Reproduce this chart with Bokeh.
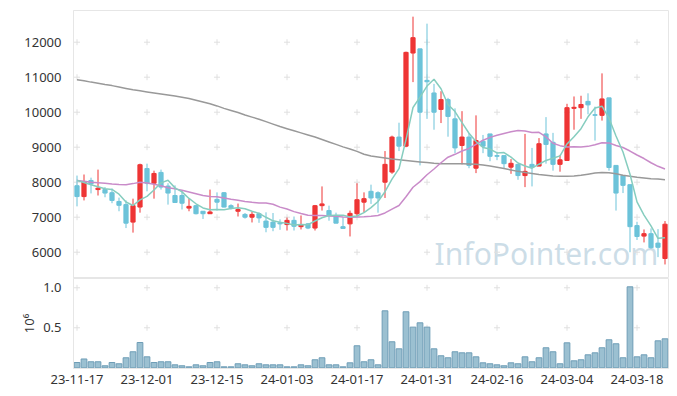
from bokeh.plotting import figure
from bokeh.layouts import column
from bokeh.models import FixedTicker, Range1d, Label, NumeralTickFormatter
from bokeh.core.properties import value
from bokeh.embed import file_html
from bokeh.resources import INLINE

dates = [
    "23-11-17", "23-11-20", "23-11-21", "23-11-22", "23-11-23", "23-11-24", "23-11-27", "23-11-28", "23-11-29", "23-11-30",
    "23-12-01", "23-12-04", "23-12-05", "23-12-06", "23-12-07", "23-12-08", "23-12-11", "23-12-12", "23-12-13", "23-12-14",
    "23-12-15", "23-12-18", "23-12-19", "23-12-20", "23-12-21", "23-12-22", "23-12-26", "23-12-27", "23-12-28", "24-01-02",
    "24-01-03", "24-01-04", "24-01-05", "24-01-08", "24-01-09", "24-01-10", "24-01-11", "24-01-12", "24-01-15", "24-01-16",
    "24-01-17", "24-01-18", "24-01-19", "24-01-22", "24-01-23", "24-01-24", "24-01-25", "24-01-26", "24-01-29", "24-01-30",
    "24-01-31", "24-02-01", "24-02-02", "24-02-05", "24-02-06", "24-02-07", "24-02-08", "24-02-13", "24-02-14", "24-02-15",
    "24-02-16", "24-02-19", "24-02-20", "24-02-21", "24-02-22", "24-02-23", "24-02-26", "24-02-27", "24-02-28", "24-02-29",
    "24-03-04", "24-03-05", "24-03-06", "24-03-07", "24-03-08", "24-03-11", "24-03-12", "24-03-13", "24-03-14", "24-03-15",
    "24-03-18", "24-03-19", "24-03-20", "24-03-21", "24-03-22",
]

opens = [7900, 7590, 8050, 7790, 7790, 7700, 7450, 7360, 6860, 7290,
         8390, 7970, 8280, 7890, 7620, 7620, 7260, 7330, 7170, 7100,
         7510, 7700, 7330, 7170, 7080, 7000, 7100, 6890, 6860, 6840,
         6790, 6910, 6730, 6810, 6690, 7330, 7190, 7050, 6730, 6810,
         7100, 7430, 7740, 7700, 8000, 8290, 9290, 9030, 11690, 11810,
         10910, 10550, 10080, 10360, 9810, 9050, 9290, 8400, 9170, 9380,
         8760, 8760, 8430, 8510, 8190, 8510, 8460, 9380, 9140, 8510,
         8620, 10110, 10130, 10310, 9930, 9910, 10410, 8480, 8190, 7930,
         6760, 6460, 6530, 6260, 5820]
highs = [8190, 8220, 8130, 8360, 7860, 7820, 7560, 7480, 7530, 8530,
         8530, 8330, 8360, 7970, 7910, 7760, 7540, 7350, 7170, 7790,
         7710, 7720, 7370, 7390, 7120, 7150, 7140, 7140, 7120, 6940,
         6990, 7020, 7050, 6830, 7350, 7880, 7330, 7130, 7000, 7190,
         7970, 7710, 7930, 7740, 8890, 9330, 9700, 11730, 12730, 11810,
         12530, 10810, 10600, 10410, 10110, 10030, 9400, 9910, 9350, 9380,
         8870, 8760, 8660, 8510, 9380, 8980, 9260, 9860, 9410, 8780,
         10240, 10450, 10470, 10540, 10160, 11110, 10410, 8480, 8190, 7930,
         6870, 6650, 6680, 6660, 6890]
lows = [7310, 7480, 7680, 7620, 7570, 7400, 7170, 6690, 6560, 7130,
        7740, 7530, 7790, 7360, 7410, 7220, 7170, 7080, 6950, 7100,
        7190, 7280, 7220, 7020, 6960, 6850, 6840, 6570, 6600, 6640,
        6620, 6620, 6650, 6660, 6620, 7190, 6900, 6830, 6680, 6450,
        7020, 7130, 7380, 7130, 7550, 8240, 8890, 9000, 10860, 8480,
        9810, 9500, 9690, 9300, 8830, 8510, 8400, 8260, 8830, 8600,
        8630, 8380, 8240, 8070, 7860, 7880, 8460, 8530, 8330, 8300,
        8620, 9500, 9810, 9940, 9190, 9760, 8330, 7190, 7690, 6000,
        6350, 6280, 6100, 5860, 5650]
closes = [7590, 8020, 7950, 7830, 7690, 7480, 7340, 6830, 7330, 8500,
          7970, 8250, 7860, 7690, 7420, 7400, 7310, 7100, 7100, 7150,
          7430, 7290, 7270, 7220, 7000, 7080, 6980, 6710, 6710, 6810,
          6910, 6740, 6790, 6690, 7330, 7380, 7050, 6830, 6680, 7110,
          7500, 7530, 7550, 7550, 8510, 9290, 9030, 11710, 12130, 10000,
          10870, 10000, 10360, 9880, 8980, 9290, 8480, 9190, 9030, 8740,
          8740, 8530, 8540, 8190, 8310, 8430, 9100, 9080, 8510, 8640,
          10130, 10140, 10220, 10210, 9910, 10380, 8420, 7690, 7910, 6730,
          6450, 6530, 6130, 6140, 6800]

# volume in millions
volumes = [0.066, 0.11, 0.075, 0.075, 0.025, 0.066, 0.05, 0.125, 0.2, 0.316,
           0.137, 0.066, 0.075, 0.075, 0.037, 0.025, 0.012, 0.037, 0.025, 0.066,
           0.075, 0.012, 0.012, 0.05, 0.037, 0.025, 0.05, 0.037, 0.037, 0.037,
           0.012, 0.012, 0.037, 0.025, 0.1, 0.125, 0.037, 0.037, 0.012, 0.062,
           0.275, 0.075, 0.1, 0.037, 0.712, 0.325, 0.237, 0.7, 0.508, 0.562,
           0.508, 0.237, 0.15, 0.125, 0.2, 0.187, 0.187, 0.137, 0.062, 0.05,
           0.037, 0.025, 0.062, 0.05, 0.137, 0.075, 0.125, 0.25, 0.2, 0.05,
           0.312, 0.087, 0.1, 0.162, 0.187, 0.25, 0.35, 0.3, 0.125, 1.012,
           0.137, 0.162, 0.125, 0.337, 0.362]

ma5 = [8050, 7990, 7930, 7870, 7816, 7794, 7658, 7434, 7334, 7496,
       7594, 7776, 7982, 8054, 7838, 7724, 7536, 7384, 7266, 7212,
       7218, 7214, 7248, 7272, 7242, 7172, 7110, 6998, 6896, 6858,
       6824, 6776, 6792, 6788, 6892, 6986, 7048, 7056, 7054, 7010,
       7034, 7130, 7274, 7448, 7728, 8086, 8386, 9218, 10134, 10432,
       10748, 10942, 10672, 10222, 10018, 9702, 9398, 9164, 8994, 8946,
       8836, 8846, 8716, 8548, 8462, 8400, 8514, 8622, 8686, 8752,
       9092, 9300, 9528, 9868, 10122, 10172, 9828, 9322, 8862, 8226,
       7440, 7062, 6750, 6396, 6410]
ma20 = [8050, 8030, 8000, 7985, 7970, 7950, 7935, 7925, 7960, 8000,
        7975, 7940, 7900, 7840, 7810, 7770, 7720, 7670, 7620, 7590,
        7582, 7546, 7512, 7482, 7447, 7427, 7409, 7403, 7372, 7288,
        7234, 7159, 7106, 7056, 7051, 7050, 7037, 7024, 7003, 7001,
        7004, 7016, 7030, 7047, 7122, 7233, 7335, 7585, 7856, 8016,
        8214, 8377, 8555, 8715, 8797, 8893, 8964, 9082, 9200, 9281,
        9343, 9393, 9443, 9475, 9465, 9422, 9425, 9294, 9113, 9045,
        9008, 9015, 9008, 9024, 9071, 9125, 9123, 9048, 8992, 8891,
        8777, 8677, 8556, 8454, 8379]
ma_long = [10930, 10900, 10860, 10830, 10790, 10760, 10720, 10680, 10640, 10610,
           10580, 10550, 10520, 10490, 10460, 10430, 10390, 10340, 10290, 10240,
           10180, 10110, 10050, 9990, 9920, 9860, 9800, 9730, 9660, 9590,
           9530, 9470, 9410, 9350, 9290, 9220, 9150, 9080, 9010, 8950,
           8880, 8800, 8750, 8720, 8690, 8660, 8640, 8620, 8600, 8580,
           8560, 8540, 8530, 8525, 8525, 8525, 8520, 8510, 8490, 8460,
           8430, 8390, 8350, 8310, 8280, 8250, 8220, 8200, 8180, 8170,
           8170, 8180, 8200, 8230, 8260, 8280, 8270, 8240, 8200, 8170,
           8140, 8120, 8100, 8090, 8070]

tick_labels = ["23-11-17", "23-12-01", "23-12-15", "24-01-03", "24-01-17",
               "24-01-31", "24-02-16", "24-03-04", "24-03-18"]
price_ticks = [6000, 7000, 8000, 9000, 10000, 11000, 12000]
volume_ticks = [0.5, 1.0]

FONT = "Noto Sans"
RED = "#ee3535"
BLUE = "#6cc3d9"
LIGHT = "#e6e6e6"

idx = list(range(len(dates)))
tick_pos = [dates.index(t) for t in tick_labels]
colors = [RED if c >= o else BLUE for o, c in zip(opens, closes)]
tops = [max(o, c) for o, c in zip(opens, closes)]
bots = [min(o, c) for o, c in zip(opens, closes)]

xr = Range1d(-0.5, 84.5)

p = figure(width=669, height=278, x_range=xr, y_range=Range1d(5249, 12906),
           output_backend="svg", toolbar_location=None,
           min_border_left=73, min_border_right=1, min_border_top=10, min_border_bottom=0)
p.xaxis.visible = False
p.grid.visible = False
p.outline_line_color = LIGHT
p.background_fill_color = "white"
p.yaxis.ticker = FixedTicker(ticks=price_ticks)
p.yaxis.major_tick_line_color = None
p.yaxis.minor_tick_line_color = None
p.yaxis.axis_line_color = LIGHT
p.yaxis.major_label_text_font = FONT
p.yaxis.major_label_text_font_size = "13px"
p.yaxis.major_label_text_color = "#333333"
p.yaxis.major_label_standoff = 6

# grid crosses
cx = [x for x in tick_pos for _ in price_ticks]
cy = [y for _ in tick_pos for y in price_ticks]
p.scatter(cx, cy, marker="cross", size=6, line_color="#e0e0e0", line_width=1)

wm = Label(x=83.05, y=5950, text="InfoPointer.com", text_align="right",
           text_baseline="alphabetic", text_font=FONT, text_font_size="30px",
           text_color="#bcd2df", text_alpha=0.75, level="underlay")
p.add_layout(wm)

p.segment(x0=idx, y0=lows, x1=idx, y1=highs, line_color=colors, line_width=1)
p.vbar(x=idx, top=tops, bottom=bots, width=0.6, fill_color=colors, line_color=colors, line_width=1)

p.line(idx, ma_long, line_color="#999999", line_width=1.5)
p.line(idx, ma20, line_color="#c98bc9", line_width=1.5)
p.line(idx, ma5, line_color="#86cdbf", line_width=1.5)

v = figure(width=669, height=114, x_range=xr, y_range=Range1d(-0.009, 1.116),
           output_backend="svg", toolbar_location=None,
           min_border_left=73, min_border_right=1, min_border_top=0, min_border_bottom=24)
v.grid.visible = False
v.outline_line_color = LIGHT
v.yaxis.ticker = FixedTicker(ticks=volume_ticks)
v.yaxis.formatter = NumeralTickFormatter(format="0.0")
v.yaxis.major_tick_line_color = None
v.yaxis.minor_tick_line_color = None
v.yaxis.axis_line_color = LIGHT
v.yaxis.major_label_text_font = FONT
v.yaxis.major_label_text_font_size = "13px"
v.yaxis.major_label_text_color = "#333333"
v.yaxis.major_label_standoff = 6
v.yaxis.axis_label = "10⁶"
v.yaxis.axis_label_text_font = FONT
v.yaxis.axis_label_text_font_size = "13px"
v.yaxis.axis_label_text_font_style = "normal"
v.yaxis.axis_label_text_color = "#333333"
v.yaxis.axis_label_standoff = 2

v.xaxis.ticker = FixedTicker(ticks=tick_pos)
v.xaxis.major_label_overrides = {i: dates[i] for i in tick_pos}
v.xaxis.major_tick_line_color = None
v.xaxis.minor_tick_line_color = None
v.xaxis.major_tick_out = 0
v.xaxis.axis_line_color = LIGHT
v.xaxis.major_label_text_font = FONT
v.xaxis.major_label_text_font_size = "13px"
v.xaxis.major_label_text_color = "#333333"
v.xaxis.major_label_standoff = 6

vx = [x for x in tick_pos for _ in volume_ticks]
vy = [y for _ in tick_pos for y in volume_ticks]
v.scatter(vx, vy, marker="cross", size=6, line_color="#e0e0e0", line_width=1)
v.vbar(x=idx, top=volumes, bottom=0, width=0.82, fill_color="#9bc0d1", line_color="#6e9db6", line_width=1)

layout = column(p, v, spacing=0)
open("out.html", "w").write(file_html(layout, INLINE))
